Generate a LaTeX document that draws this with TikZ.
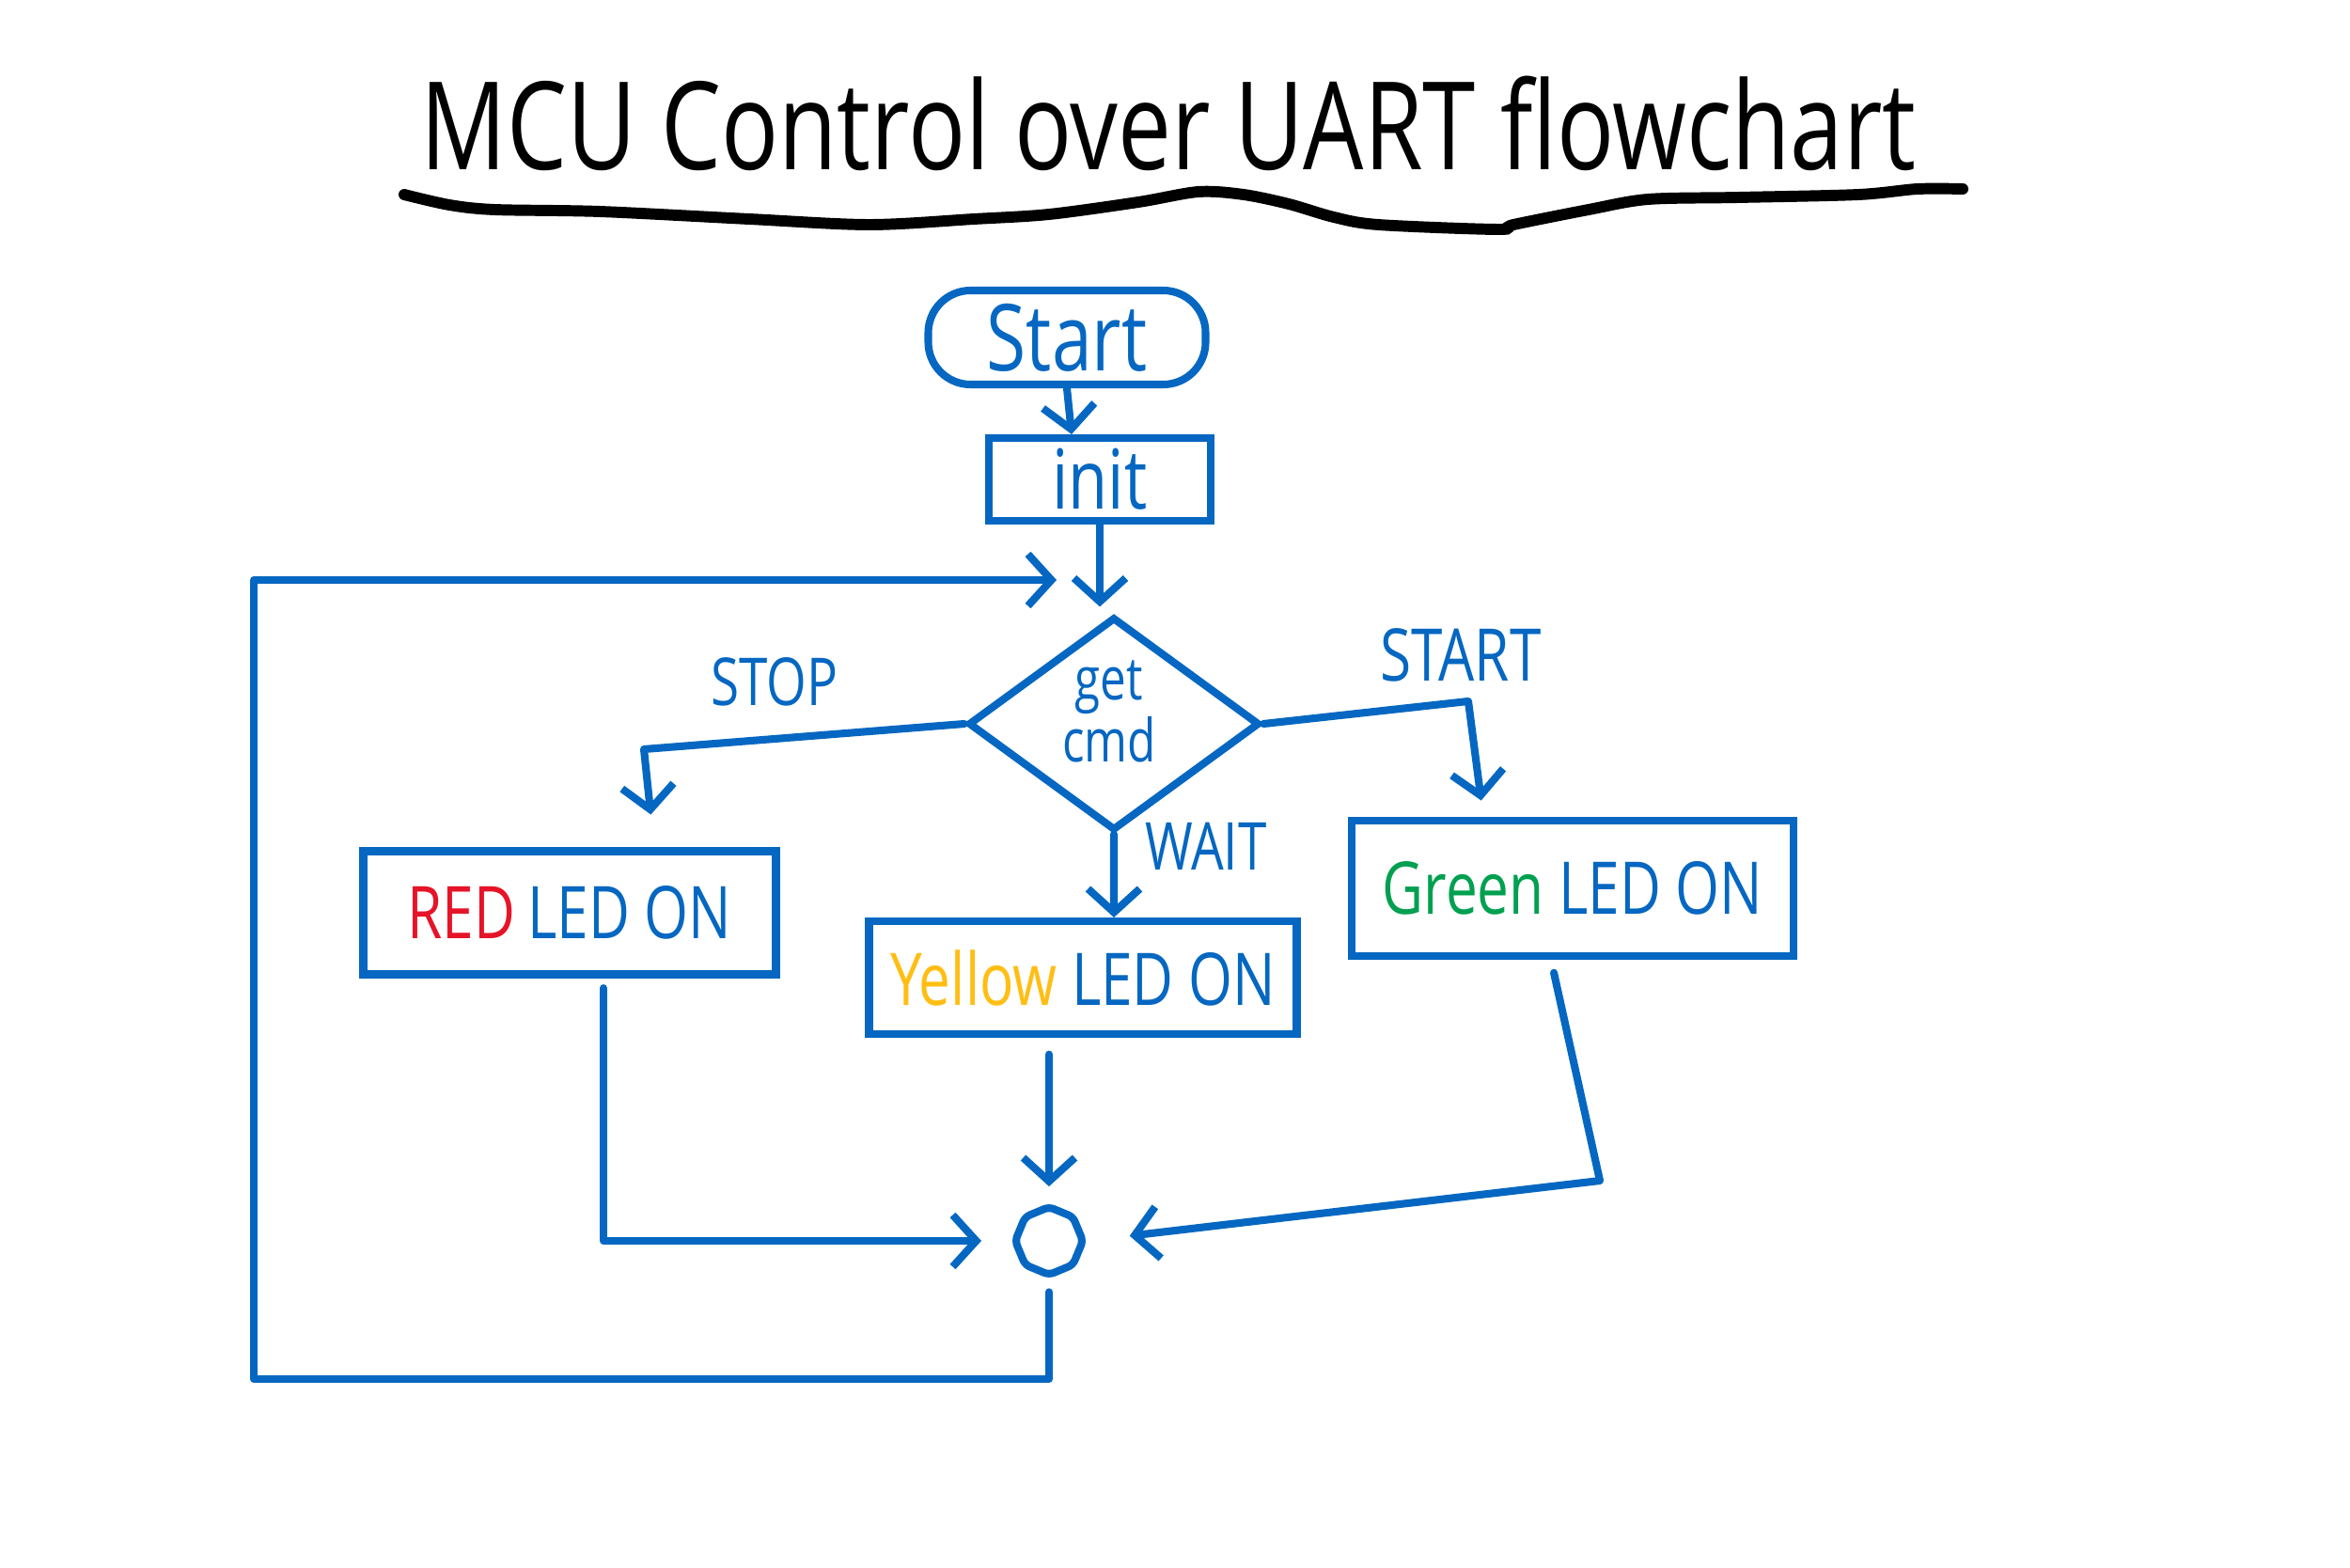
\documentclass[tikz,border=0pt]{standalone}
\usepackage{fontspec}
\setmainfont[FakeStretch=0.78]{Open Sans}
\usetikzlibrary{shapes.geometric,arrows.meta}
\definecolor{ink}{RGB}{5,103,193}
\definecolor{ledred}{RGB}{230,20,40}
\definecolor{ledyellow}{RGB}{255,190,20}
\definecolor{ledgreen}{RGB}{0,160,80}
\begin{document}
\begin{tikzpicture}[
    box/.style={draw=ink, line width=2.3pt, text=ink, inner sep=0pt, font=\fontsize{22}{26}\selectfont},
    flow/.style={draw=ink, line width=2.3pt, line cap=round, line join=round, -{Straight Barb[length=2.5mm,width=5.5mm]}},
    lbl/.style={text=ink, font=\fontsize{20}{24}\selectfont}]
    \useasboundingbox (0,0) rectangle (25,16.67);
    % title
    \node (title) at (12.43,15.36) {\fontsize{37}{44}\selectfont MCU Control over UART flowchart};
    \draw[line width=3.4pt, line cap=round] plot[smooth] coordinates {(4.30,14.60) (4.78,14.49) (5.26,14.44) (6.38,14.42) (7.97,14.34) (9.25,14.28) (10.36,14.34) (11.16,14.39) (12.11,14.52) (12.75,14.63) (13.23,14.60) (13.71,14.50) (14.19,14.36) (14.66,14.28) (15.94,14.23) (16.10,14.28) (16.90,14.44) (17.53,14.55) (18.49,14.57) (19.77,14.60) (20.40,14.66) (20.88,14.66)};
    % nodes
    \node[box, rounded corners=0.45cm, minimum width=2.95cm, minimum height=1cm, font=\fontsize{28}{30}\selectfont] (start) at (11.35,13.08) {Start};
    \node[box, minimum width=2.36cm, minimum height=0.88cm, font=\fontsize{25}{28}\selectfont] (init) at (11.70,11.57) {init};
    \node[box, diamond, aspect=1.33, minimum width=3.1cm, minimum height=2.27cm] (cmd) at (11.85,8.97) {};
    \node[text=ink, align=center, font=\fontsize{18}{16}\selectfont] (cmdtext) at (11.8,9.1) {get\\cmd};
    \node[box, minimum width=4.39cm, minimum height=1.31cm] (red) at (6.06,6.96) {{\color{ledred}RED}\,LED ON};
    \node[box, minimum width=4.55cm, minimum height=1.20cm] (yellow) at (11.52,6.27) {{\color{ledyellow}Yellow} LED ON};
    \node[box, minimum width=4.70cm, minimum height=1.44cm] (green) at (16.73,7.22) {{\color{ledgreen}Green} LED ON};
    \node[box, regular polygon, regular polygon sides=8, shape border rotate=22.5, minimum size=0.72cm, rounded corners=1.5pt] (junc) at (11.16,3.47) {};
    % branch labels
    \node[lbl] (stoplbl) at (8.24,9.42) {STOP};
    \node[lbl] (waitlbl) at (12.83,7.67) {WAIT};
    \node[lbl, font=\fontsize{22}{26}\selectfont] (startlbl) at (15.54,9.70) {START};
    \coordinate (stopc) at (6.85,8.70);
    \coordinate (startc) at (15.62,9.21);
    \coordinate (greenc) at (17.02,4.11);
    \coordinate (loopbl) at (2.70,2.00);
    \coordinate (looptl) at (2.70,10.50);
    \coordinate (loopend) at (11.24,10.50);
    % connectors
    \draw[flow] (start.south) -- ([xshift=-3mm]init.north);
    \draw[flow, shorten >=2pt] (init.south) -- (init.south |- cmd.north);
    \draw[flow, shorten >=10pt] (cmd.west) -- (stopc) -- ([xshift=9mm]red.north);
    \draw[flow] (cmd.south) -- ([xshift=3.3mm]yellow.north);
    \draw[flow, shorten >=5pt] (cmd.east) -- (startc) -- ([xshift=-9.5mm]green.north);
    \draw[flow, shorten <=3pt, shorten >=9pt] ([xshift=3.6mm]red.south) |- (junc.west);
    \draw[flow, shorten <=5pt, shorten >=5pt] (yellow.south -| junc) -- (junc.north);
    \draw[flow, shorten <=4pt, shorten >=13pt] ([xshift=-2.3mm]green.south) -- (greenc) -- (junc.east);
    \draw[flow, shorten <=4pt] (junc.south) |- (loopbl) -- (looptl) -- (loopend);
\end{tikzpicture}
\end{document}
